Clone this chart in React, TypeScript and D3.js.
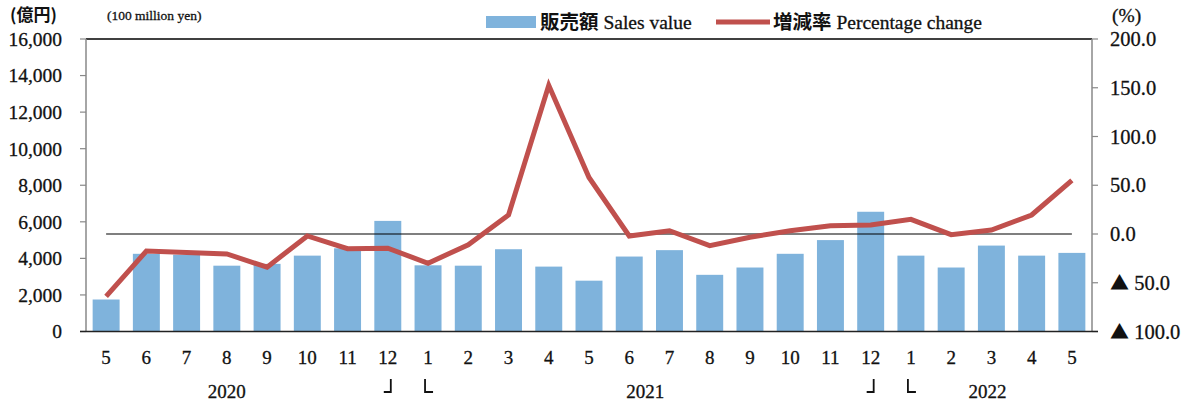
import React from "react";
import * as d3 from "d3";

const months = ["5","6","7","8","9","10","11","12","1","2","3","4","5","6","7","8","9","10","11","12","1","2","3","4","5"];
const salesValue = [1750,4250,4200,3600,3700,4150,4550,6050,3620,3600,4500,3550,2780,4100,4450,3100,3500,4250,5000,6550,4150,3500,4700,4150,4300];
const pctChange = [-64,-17.5,-19,-20.5,-34,-2,-15,-14.5,-30,-11,19.5,152.5,58,-2,3.4,-12,-3.4,3.4,8.5,9.2,15,-0.7,4,19.5,55];
const leftTicks = [0,2000,4000,6000,8000,10000,12000,14000,16000];
const rightTicks = [-100,-50,0,50,100,150,200];
const years = [{label:"2020", at:3}, {label:"2021", at:13.4}, {label:"2022", at:21.9}];
const yearBreaks = [7, 19];

const W = 1186, H = 405;
const L = 86, R = 1092, T = 39, B = 331.5;
const BAR = "#7FB3DC";
const RED = "#C0504D";
const SERIF = "'Liberation Serif','Times New Roman',serif";
const CJK = "'Noto Sans CJK JP','Noto Sans CJK SC',sans-serif";
const INK = "#111";
const txt = { fill: INK, stroke: INK, strokeWidth: 0.3 };

export default function App() {
  const idx = months.map((_, i) => i);
  const x = d3.scaleBand<number>().domain(idx).range([L, R]).paddingInner(0.33).paddingOuter(0.165);
  const yL = d3.scaleLinear().domain([0, 16000]).range([B, T]);
  const yR = d3.scaleLinear().domain([-100, 200]).range([B, T]);
  const cx = (i: number) => (x(i) as number) + x.bandwidth() / 2;
  const step = x.step();
  const line = d3.line<number>().x((_, i) => cx(i)).y(d => yR(d));
  const fmtL = d3.format(",");
  const f1 = d3.format(".1f");

  return (
    <svg width={W} height={H} style={{ position: "absolute", left: 0, top: 0, background: "#fff" }}>
      {/* header */}
      <text x={10} y={21} fontFamily={CJK} fontWeight={700} fontSize={17} fill={INK}>(億円)</text>
      <text x={107} y={20} fontFamily={SERIF} fontSize={13.5} {...txt}>(100 million yen)</text>
      <text x={1112} y={22} fontFamily={SERIF} fontSize={19.5} {...txt}>(%)</text>

      {/* legend */}
      <rect x={486} y={16} width={50} height={12} fill={BAR} />
      <text x={540} y={29} fontSize={19.5} fill={INK}>
        <tspan fontFamily={CJK} fontWeight={700}>販売額</tspan>
        <tspan fontFamily={SERIF} stroke={INK} strokeWidth={0.3}> Sales value</tspan>
      </text>
      <line x1={716} x2={770} y1={22} y2={22} stroke={RED} strokeWidth={5} />
      <text x={773} y={29} fontSize={19.5} fill={INK}>
        <tspan fontFamily={CJK} fontWeight={700}>増減率</tspan>
        <tspan fontFamily={SERIF} stroke={INK} strokeWidth={0.3}> Percentage change</tspan>
      </text>

      {/* bars */}
      {salesValue.map((v, i) => (
        <rect key={i} x={x(i)} y={yL(v)} width={x.bandwidth()} height={B - yL(v)} fill={BAR} />
      ))}

      {/* frame */}
      <line x1={L} x2={R} y1={T} y2={T} stroke="#000" strokeWidth={1.5} />
      <line x1={L} x2={L} y1={T} y2={B} stroke="#888" strokeWidth={1.5} />
      <line x1={R} x2={R} y1={T} y2={B} stroke="#888" strokeWidth={1.5} />
      {leftTicks.map(t => (
        <g key={t}>
          <line x1={L - 6} x2={L} y1={yL(t)} y2={yL(t)} stroke="#888" strokeWidth={1.2} />
          <text x={62} y={yL(t)} dy="0.35em" textAnchor="end" fontFamily={SERIF} fontSize={19.5} {...txt}>{fmtL(t)}</text>
        </g>
      ))}
      {rightTicks.map(t => (
        <g key={t}>
          <line x1={R} x2={R + 6} y1={yR(t)} y2={yR(t)} stroke="#888" strokeWidth={1.2} />
          <text x={1110} y={yR(t)} dy="0.35em" textAnchor="start" fontFamily={SERIF} fontSize={20.5} {...txt}>
            {t < 0 ? <tspan fontFamily={CJK} fontSize={19} stroke="none">▲</tspan> : null}
            {t < 0 ? " " + f1(-t) : f1(t)}
          </text>
        </g>
      ))}
      <line x1={L - 6} x2={R + 6} y1={B} y2={B} stroke="#222" strokeWidth={1.5} />

      {/* zero line */}
      <line x1={cx(0)} x2={cx(months.length - 1)} y1={yR(0)} y2={yR(0)} stroke="#000" strokeWidth={1.2} />

      {/* percentage line */}
      <path d={line(pctChange) || ""} fill="none" stroke={RED} strokeWidth={5} strokeLinejoin="miter" />

      {/* x labels */}
      {months.map((m, i) => (
        <text key={i} x={cx(i)} y={357} dy="0.35em" textAnchor="middle" fontFamily={SERIF} fontSize={19} {...txt}>{m}</text>
      ))}
      {years.map(yv => (
        <text key={yv.label} x={L + step * (yv.at + 0.5)} y={391} dy="0.35em" textAnchor="middle" fontFamily={SERIF} fontSize={19} {...txt}>{yv.label}</text>
      ))}
      {yearBreaks.map(b => {
        const a = cx(b), c = cx(b + 1);
        return (
          <g key={b} stroke={INK} strokeWidth={1.8} fill="none">
            <path d={`M${a - 4},${392} H${a + 3} V${379}`} />
            <path d={`M${c - 3},${379} V${392} H${c + 5}`} />
          </g>
        );
      })}
    </svg>
  );
}
